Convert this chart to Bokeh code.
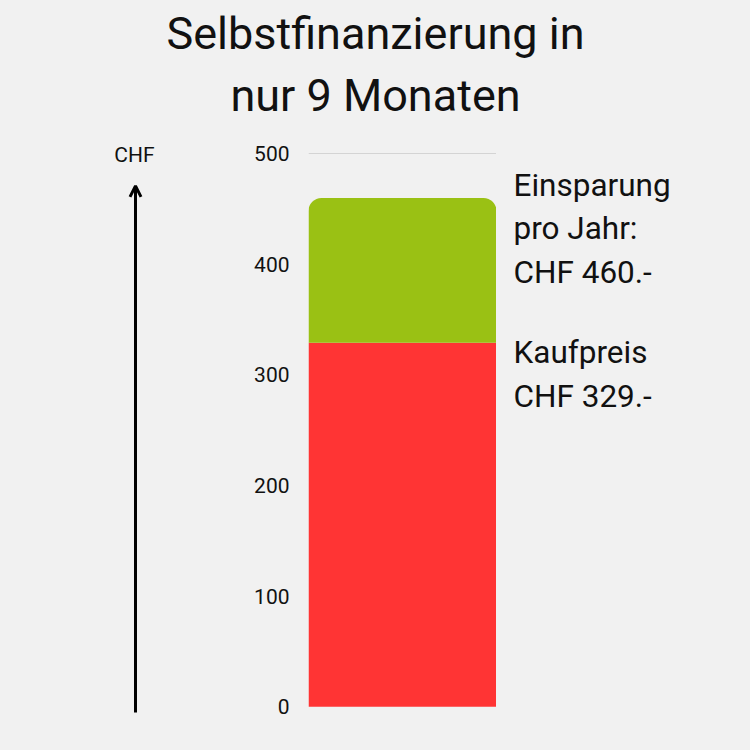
# Selbstfinanzierung chart: stacked single bar, Kaufpreis vs Einsparung.
from bokeh.plotting import figure
from bokeh.layouts import column, row
from bokeh.models import Range1d, Label, Arrow, OpenHead, FixedTicker
from bokeh.embed import file_html
from bokeh.resources import INLINE

# Data.
segments = ["Kaufpreis", "Einsparung pro Jahr"]
values = [329, 460]          # cumulative top of each segment (CHF)
colors = ["#ff3434", "#9ac114"]
y_ticks = [0, 100, 200, 300, 400, 500]
title_lines = ["Selbstfinanzierung in", "nur 9 Monaten"]
side_lines = [["Kaufpreis", "CHF 329.-"], ["Einsparung", "pro Jahr:", "CHF 460.-"]]

FONT = "Roboto"
BG = "#f1f1f1"
INK = "#111111"


def blank(w, h, **kw):
    f = figure(width=w, height=h, output_backend="svg", toolbar_location=None, **kw)
    f.background_fill_color = BG
    f.border_fill_color = BG
    f.outline_line_color = None
    f.axis.visible = False
    f.grid.grid_line_color = None
    return f


# shared value axis, a bit of room below 0 and above 500 for the arrow / CHF label
yr = Range1d(-8, 512)
borders = dict(min_border_top=2, min_border_bottom=35)

# Title strip (pixel coordinates)
head = blank(750, 138, x_range=Range1d(0, 750), y_range=Range1d(0, 138), min_border=0)
for line, yy in zip(title_lines, [105, 43]):
    head.add_layout(Label(x=375, y=yy, text=line, text_font=FONT,
                          text_font_size="45px", text_color=INK,
                          text_align="center", text_baseline="alphabetic"))

# Left strip with the CHF arrow
left = blank(250, 612, x_range=Range1d(0, 250), y_range=yr,
             min_border_left=0, min_border_right=0, **borders)
left.add_layout(Arrow(x_start=135, y_start=-5.3, x_end=135, y_end=471,
                      start_units="data", end_units="data",
                      line_width=3, line_color="black",
                      end=OpenHead(size=11, line_width=3, line_color="black")))
left.add_layout(Label(x=134, y=493, y_offset=7, text="CHF", text_font=FONT,
                      text_font_size="21px", text_color=INK,
                      text_align="center", text_baseline="alphabetic"))

# Main bar chart
p = figure(width=246, height=612, output_backend="svg", toolbar_location=None,
           x_range=Range1d(0, 1), y_range=yr,
           min_border_left=58, min_border_right=0, **borders)
p.background_fill_color = BG
p.border_fill_color = BG
p.outline_line_color = None
p.xaxis.visible = False
p.xgrid.grid_line_color = None
p.yaxis.ticker = FixedTicker(ticks=y_ticks)
p.yaxis.axis_line_color = None
p.yaxis.major_tick_line_color = None
p.yaxis.minor_tick_line_color = None
p.yaxis.major_label_standoff = 13
p.yaxis.major_label_text_font = FONT
p.yaxis.major_label_text_font_size = "21px"
p.yaxis.major_label_text_color = INK
p.ygrid.ticker = FixedTicker(ticks=[y_ticks[-1]])
p.ygrid.grid_line_color = "#d4d4d4"
p.ygrid.grid_line_width = 1

bottoms = [0] + values[:-1]
p.vbar(x=[0.5], width=1, bottom=[bottoms[0]], top=[values[0]],
       fill_color=colors[0], line_color=None)
p.vbar(x=[0.5], width=1, bottom=[bottoms[1]], top=[values[1]],
       fill_color=colors[1], line_color=None, border_radius=(13, 13, 0, 0))

# Right strip with the value texts
right = blank(254, 612, x_range=Range1d(0, 254), y_range=yr,
              min_border_left=0, min_border_right=0, **borders)
for val, lines, first in zip(values, side_lines, [-10, 13]):
    for i, line in enumerate(lines):
        right.add_layout(Label(x=17, y=val, y_offset=first - 43.5 * i, text=line,
                               text_font=FONT, text_font_size="31.5px",
                               text_color=INK, text_baseline="alphabetic"))

layout = column(head, row(left, p, right, styles={"background-color": BG}),
                styles={"background-color": BG})
open("out.html", "w").write(file_html(layout, INLINE))
